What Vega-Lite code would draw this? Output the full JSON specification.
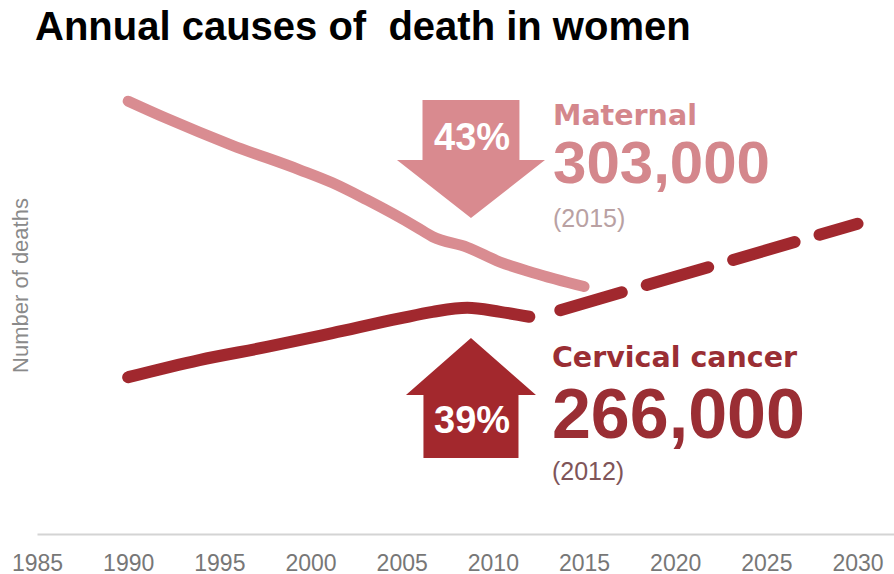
{
  "$schema": "https://vega.github.io/schema/vega-lite/v6.json",
  "width": 857,
  "height": 490,
  "autosize": "none",
  "padding": {"left": 37, "top": 44, "right": 0, "bottom": 40},
  "background": "white",
  "config": {"view": {"stroke": null}, "font": "Liberation Sans"},
  "title": {
    "text": "Annual causes of \u00a0death in women",
    "anchor": "start",
    "frame": "group",
    "font": "Liberation Sans",
    "fontSize": 40,
    "fontWeight": "bold",
    "color": "#000000",
    "baseline": "alphabetic",
    "offset": 2,
    "dx": -2,
    "dy": 38
  },
  "datasets": {
    "deaths": [
      {"series": "Maternal", "year": 1990, "deaths": 530},
      {"series": "Maternal", "year": 1992.1, "deaths": 509},
      {"series": "Maternal", "year": 1995.7, "deaths": 476},
      {"series": "Maternal", "year": 1999.4, "deaths": 446},
      {"series": "Maternal", "year": 2001.2, "deaths": 430},
      {"series": "Maternal", "year": 2003.1, "deaths": 409},
      {"series": "Maternal", "year": 2005.8, "deaths": 376},
      {"series": "Maternal", "year": 2006.7, "deaths": 364},
      {"series": "Maternal", "year": 2008.6, "deaths": 351},
      {"series": "Maternal", "year": 2010.4, "deaths": 333},
      {"series": "Maternal", "year": 2012.2, "deaths": 320},
      {"series": "Maternal", "year": 2015, "deaths": 303},
      {"series": "Cervical", "year": 1990, "deaths": 192},
      {"series": "Cervical", "year": 1993.9, "deaths": 213},
      {"series": "Cervical", "year": 1997.6, "deaths": 229},
      {"series": "Cervical", "year": 2001.2, "deaths": 246},
      {"series": "Cervical", "year": 2004.9, "deaths": 264},
      {"series": "Cervical", "year": 2006.7, "deaths": 272},
      {"series": "Cervical", "year": 2008.6, "deaths": 277},
      {"series": "Cervical", "year": 2010.4, "deaths": 272},
      {"series": "Cervical", "year": 2012, "deaths": 266},
      {"series": "Cervical projection", "year": 2013.7, "deaths": 274},
      {"series": "Cervical projection", "year": 2030, "deaths": 380}
    ]
  },
  "layer": [
    {
      "data": {"name": "deaths"},
      "transform": [{"filter": "datum.series === 'Maternal'"}],
      "mark": {"type": "line", "color": "#d98c91", "strokeWidth": 11, "strokeCap": "round", "strokeJoin": "round", "interpolate": "monotone"},
      "encoding": {
        "x": {
          "field": "year", "type": "quantitative",
          "scale": {"domain": [1985, 2032], "nice": false, "zero": false},
          "axis": {
            "title": null,
            "values": [1985, 1990, 1995, 2000, 2005, 2010, 2015, 2020, 2025, 2030],
            "format": "d",
            "ticks": false,
            "grid": false,
            "domainColor": "#d4d4d4",
            "domainWidth": 2,
            "labelFont": "Liberation Sans",
            "labelFontSize": 23,
            "labelColor": "#777777",
            "labelPadding": 18,
            "labelFlush": false
          }
        },
        "y": {
          "field": "deaths", "type": "quantitative",
          "scale": {"domain": [0, 600], "nice": false},
          "axis": {
            "title": "Number of deaths",
            "labels": false,
            "ticks": false,
            "domain": false,
            "grid": false,
            "titleFont": "Liberation Sans",
            "titleFontSize": 22,
            "titleFontWeight": "normal",
            "titleColor": "#8a8a8a",
            "titleX": -10,
            "titleY": 241,
            "titleAngle": -90,
            "titleAlign": "center",
            "titleBaseline": "alphabetic"
          }
        }
      }
    },
    {
      "data": {"name": "deaths"},
      "transform": [{"filter": "datum.series === 'Cervical'"}],
      "mark": {"type": "line", "color": "#a1282e", "strokeWidth": 12, "strokeCap": "round", "strokeJoin": "round", "interpolate": "monotone"},
      "encoding": {
        "x": {"field": "year", "type": "quantitative"},
        "y": {"field": "deaths", "type": "quantitative"}
      }
    },
    {
      "data": {"name": "deaths"},
      "transform": [{"filter": "datum.series === 'Cervical projection'"}],
      "mark": {"type": "line", "color": "#a1282e", "strokeWidth": 12, "strokeCap": "round", "strokeDash": [64, 26]},
      "encoding": {
        "x": {"field": "year", "type": "quantitative"},
        "y": {"field": "deaths", "type": "quantitative"}
      }
    },
    {
      "data": {"values": [{}]},
      "mark": {"type": "point", "filled": true, "opacity": 1, "color": "#d98a8f", "size": 21904,
        "shape": "M-0.655,-0.797 L0.655,-0.797 L0.655,0.014 L1,0.014 L0,0.797 L-1,0.014 L-0.655,0.014 Z"},
      "encoding": {
        "x": {"datum": 2008.8, "type": "quantitative"},
        "y": {"datum": 459.2, "type": "quantitative"}
      }
    },
    {
      "data": {"values": [{}]},
      "mark": {"type": "point", "filled": true, "opacity": 1, "color": "#a3282d", "size": 16900,
        "shape": "M0,-0.923 L1,-0.046 L0.731,-0.046 L0.731,0.923 L-0.731,0.923 L-0.731,-0.046 L-1,-0.046 Z"},
      "encoding": {
        "x": {"datum": 2008.8, "type": "quantitative"},
        "y": {"datum": 166.5, "type": "quantitative"}
      }
    },
    {
      "data": {"values": [{}]},
      "mark": {"type": "text", "text": "43%", "font": "Liberation Sans", "fontSize": 38, "fontWeight": "bold", "color": "#ffffff", "align": "center", "baseline": "alphabetic"},
      "encoding": {
        "x": {"datum": 2008.86, "type": "quantitative"},
        "y": {"datum": 470.2, "type": "quantitative"}
      }
    },
    {
      "data": {"values": [{}]},
      "mark": {"type": "text", "text": "39%", "font": "Liberation Sans", "fontSize": 38, "fontWeight": "bold", "color": "#ffffff", "align": "center", "baseline": "alphabetic"},
      "encoding": {
        "x": {"datum": 2008.86, "type": "quantitative"},
        "y": {"datum": 123.7, "type": "quantitative"}
      }
    },
    {
      "data": {"values": [{}]},
      "mark": {"type": "text", "text": "Maternal", "font": "DejaVu Sans", "fontSize": 28.5, "fontWeight": "bold", "color": "#d4878c", "align": "left", "baseline": "alphabetic"},
      "encoding": {
        "x": {"datum": 2013.3, "type": "quantitative"},
        "y": {"datum": 500.8, "type": "quantitative"}
      }
    },
    {
      "data": {"values": [{}]},
      "mark": {"type": "text", "text": "303,000", "font": "Liberation Sans", "fontSize": 60, "fontWeight": "bold", "color": "#d4878c", "align": "left", "baseline": "alphabetic"},
      "encoding": {
        "x": {"datum": 2013.3, "type": "quantitative"},
        "y": {"datum": 429.8, "type": "quantitative"}
      }
    },
    {
      "data": {"values": [{}]},
      "mark": {"type": "text", "text": "(2015)", "font": "Liberation Sans", "fontSize": 25, "fontWeight": "normal", "color": "#b9a1a3", "align": "left", "baseline": "alphabetic"},
      "encoding": {
        "x": {"datum": 2013.3, "type": "quantitative"},
        "y": {"datum": 375.9, "type": "quantitative"}
      }
    },
    {
      "data": {"values": [{}]},
      "mark": {"type": "text", "text": "Cervical cancer", "font": "DejaVu Sans", "fontSize": 28.5, "fontWeight": "bold", "color": "#9a2e34", "align": "left", "baseline": "alphabetic"},
      "encoding": {
        "x": {"datum": 2013.24, "type": "quantitative"},
        "y": {"datum": 204.5, "type": "quantitative"}
      }
    },
    {
      "data": {"values": [{}]},
      "mark": {"type": "text", "text": "266,000", "font": "Liberation Sans", "fontSize": 70, "fontWeight": "bold", "color": "#9a2e34", "align": "left", "baseline": "alphabetic"},
      "encoding": {
        "x": {"datum": 2013.24, "type": "quantitative"},
        "y": {"datum": 117.5, "type": "quantitative"}
      }
    },
    {
      "data": {"values": [{}]},
      "mark": {"type": "text", "text": "(2012)", "font": "Liberation Sans", "fontSize": 25, "fontWeight": "normal", "color": "#7f5559", "align": "left", "baseline": "alphabetic"},
      "encoding": {
        "x": {"datum": 2013.24, "type": "quantitative"},
        "y": {"datum": 66.1, "type": "quantitative"}
      }
    }
  ]
}
